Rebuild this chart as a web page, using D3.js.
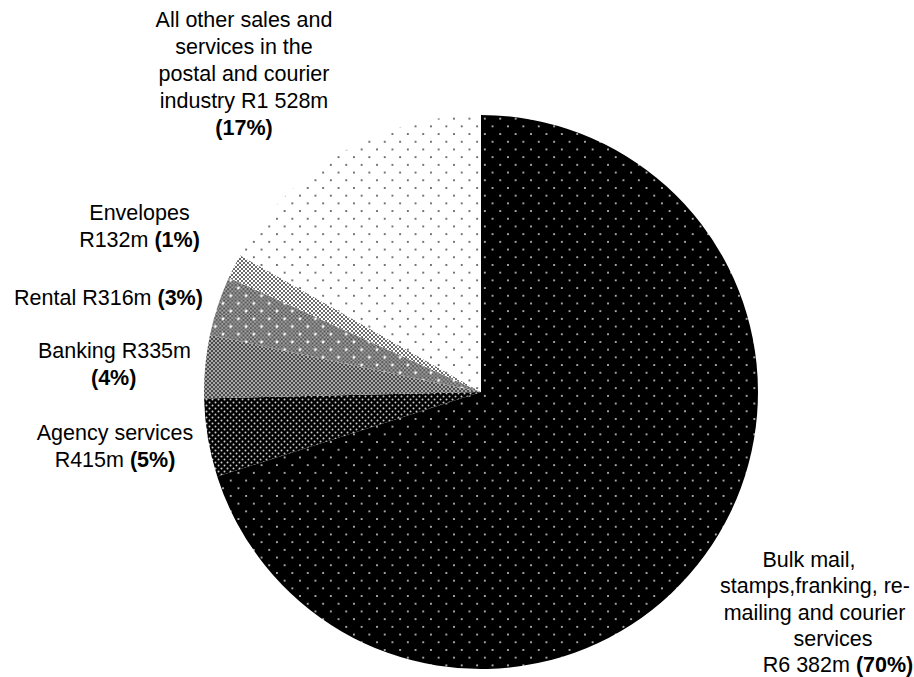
<!DOCTYPE html>
<html>
<head>
<meta charset="utf-8">
<script src="https://cdn.jsdelivr.net/npm/d3@7"></script>
<style>
  html, body { margin: 0; padding: 0; background: #fff; }
  svg { display: block; }
  text { font-family: "Liberation Sans", Arial, sans-serif; font-size: 21.5px; fill: #000; }
</style>
</head>
<body>
<svg id="chart" width="914" height="677"></svg>
<script>
// Postal and courier industry income, R million
const categories = [
  "Bulk mail, stamps, franking, re-mailing and courier services",
  "Agency services",
  "Banking",
  "Rental",
  "Envelopes",
  "All other sales and services in the postal and courier industry"
];
const values = [6382, 415, 335, 316, 132, 1528];
const percentLabels = ["70%", "5%", "4%", "3%", "1%", "17%"];

// Label text, one entry per line; bold part is the share
const labelLines = [
  [["Bulk mail,", ""], ["stamps,franking, re-", ""], ["mailing and courier", ""], ["services", ""], ["R6 382m ", "(70%)"]],
  [["Agency services", ""], ["R415m ", "(5%)"]],
  [["Banking R335m", ""], ["", "(4%)"]],
  [["Rental R316m ", "(3%)"]],
  [["Envelopes", ""], ["R132m ", "(1%)"]],
  [["All other sales and", ""], ["services in the", ""], ["postal and courier", ""], ["industry R1 528m", ""], ["", "(17%)"]]
];

const svg = d3.select("#chart");
const cx = 481, cy = 392, radius = 277;

// ---- fill patterns ----
const defs = svg.append("defs");

function dotLattice(id, bg, dot, size, r) {
  const p = defs.append("pattern").attr("id", id)
    .attr("patternUnits", "userSpaceOnUse")
    .attr("width", size).attr("height", size);
  p.append("rect").attr("width", size).attr("height", size).attr("fill", bg);
  [[size * 0.25, size * 0.25], [size * 0.75, size * 0.75]].forEach(([x, y]) =>
    p.append("circle").attr("cx", x).attr("cy", y).attr("r", r).attr("fill", dot));
}

function checker(id, dark, light, overlayDot) {
  const s = 15.4;
  const p = defs.append("pattern").attr("id", id)
    .attr("patternUnits", "userSpaceOnUse")
    .attr("width", overlayDot ? s : 4).attr("height", overlayDot ? s : 4);
  const inner = defs.append("pattern").attr("id", id + "-base")
    .attr("patternUnits", "userSpaceOnUse").attr("width", 4).attr("height", 4);
  inner.append("rect").attr("width", 4).attr("height", 4).attr("fill", light);
  inner.append("rect").attr("width", 2).attr("height", 2).attr("fill", dark);
  inner.append("rect").attr("x", 2).attr("y", 2).attr("width", 2).attr("height", 2).attr("fill", dark);
  p.append("rect").attr("width", overlayDot ? s : 4).attr("height", overlayDot ? s : 4)
    .attr("fill", `url(#${id}-base)`);
  if (overlayDot) {
    [[s * 0.25, s * 0.25], [s * 0.75, s * 0.75]].forEach(([x, y]) =>
      p.append("circle").attr("cx", x).attr("cy", y).attr("r", 1.4).attr("fill", "#fff"));
  }
}

dotLattice("pat-bulk", "#000", "#d8d8d8", 15.4, 1.0);
dotLattice("pat-agency", "#000", "#cfcfcf", 6, 1.0);
checker("pat-banking", "#4a4a4a", "#a8a8a8", false);
checker("pat-rental", "#4a4a4a", "#b0b0b0", true);
dotLattice("pat-envelopes", "#fff", "#3a3a3a", 4, 1.0);
dotLattice("pat-other", "#fff", "#444", 15.4, 1.0);

const fills = ["pat-bulk", "pat-agency", "pat-banking", "pat-rental", "pat-envelopes", "pat-other"];

// ---- pie ----
const pie = d3.pie().sort(null).value(d => d)
  .startAngle(0).endAngle(2 * Math.PI);
const arc = d3.arc().innerRadius(0).outerRadius(radius);

const g = svg.append("g").attr("transform", `translate(${cx},${cy})`);
g.selectAll("path.slice")
  .data(pie(values))
  .join("path")
  .attr("class", "slice")
  .attr("d", arc)
  .attr("fill", (d, i) => `url(#${fills[i]})`);

// ---- labels ----
// anchor x and first baseline per label, and line spacing
const labelPos = [
  { x: 822, y: 567, lines: [809, 815, 814.5, 833, 838] },
  { x: 115, y: 440 },
  { x: 114.5, y: 358, lines: [114.5, 113.7] },
  { x: 108.5, y: 305 },
  { x: 139.5, y: 220 },
  { x: 244, y: 26.5 }
];
const lineHeight = [26.3, 27, 27, 27, 27, 27];

labelLines.forEach((lines, i) => {
  const pos = labelPos[i];
  lines.forEach((parts, j) => {
    const t = svg.append("text")
      .attr("x", pos.lines ? pos.lines[j] : pos.x)
      .attr("y", pos.y + j * lineHeight[i])
      .attr("text-anchor", "middle");
    if (parts[0]) t.append("tspan").text(parts[0]);
    if (parts[1]) t.append("tspan").attr("font-weight", "bold").text(parts[1]);
  });
});
</script>
</body>
</html>
